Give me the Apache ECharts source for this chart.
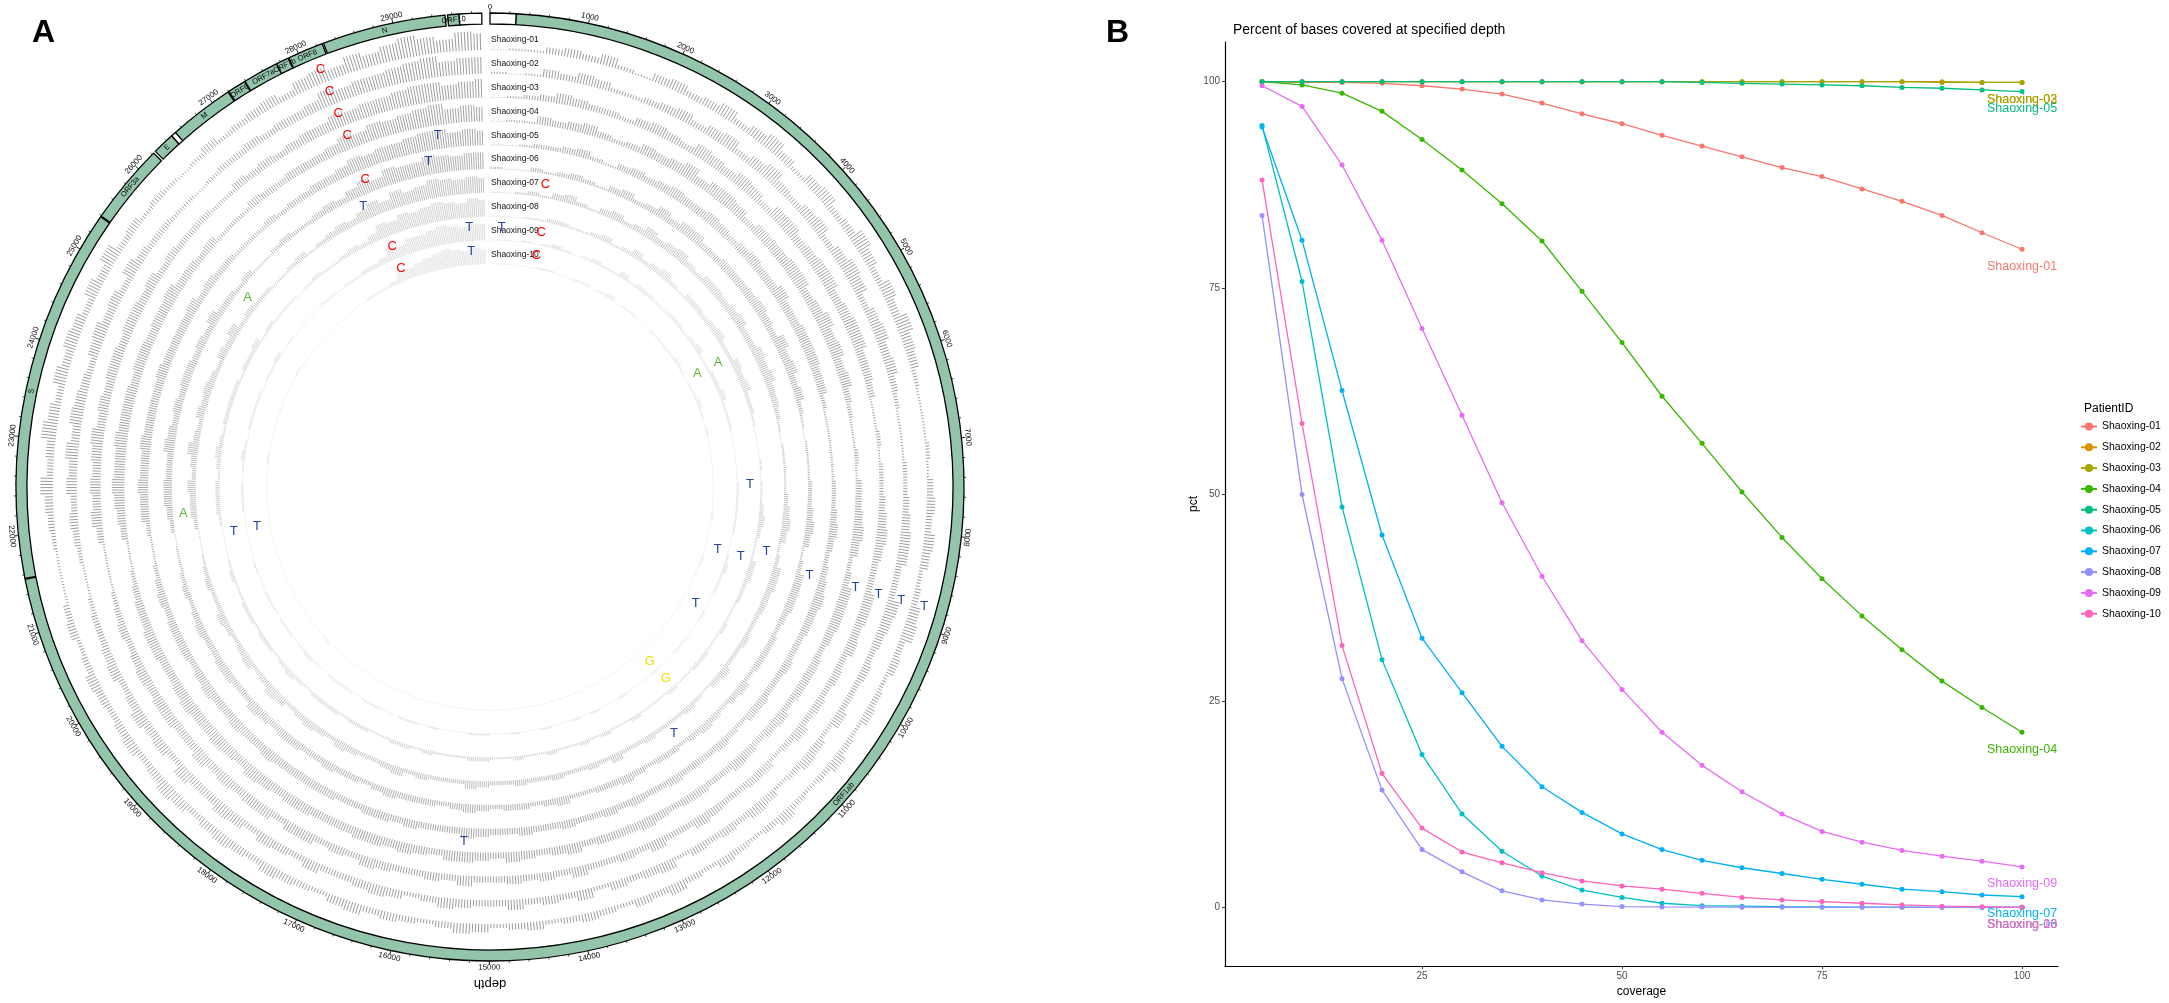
<!DOCTYPE html>
<html>
<head>
<meta charset="utf-8">
<script src="https://cdn.jsdelivr.net/npm/echarts@6/dist/echarts.min.js"></script>
<style>
  html, body { margin: 0; background: #fff; }
  #main { width: 2169px; height: 1003px; }
</style>
</head>
<body>
<div id="main"></div>
<script>
// ---------- panel B: coverage curves ----------
var PATIENTS = ['Shaoxing-01', 'Shaoxing-02', 'Shaoxing-03', 'Shaoxing-04', 'Shaoxing-05',
  'Shaoxing-06', 'Shaoxing-07', 'Shaoxing-08', 'Shaoxing-09', 'Shaoxing-10'];
var COLORS = ['#F8766D', '#D89000', '#A3A500', '#39B600', '#00BF7D',
  '#00BFC4', '#00B0F6', '#9590FF', '#E76BF3', '#FF62BC'];
var COVERAGE = [5, 10, 15, 20, 25, 30, 35, 40, 45, 50, 55, 60, 65, 70, 75, 80, 85, 90, 95, 100];
var X_TICKS = [25, 50, 75, 100];
var Y_TICKS = [0, 25, 50, 75, 100];

var PCT_01 = [100, 99.9, 99.9, 99.8, 99.5, 99.1, 98.5, 97.4, 96.1, 94.9, 93.5, 92.2, 90.9, 89.6, 88.5, 87.0, 85.5, 83.8, 81.7, 79.7];
var PCT_02 = [100, 100, 100, 100, 100, 100, 100, 100, 100, 100, 100, 100, 100, 100, 100, 100, 100, 100, 99.9, 99.9];
var PCT_03 = [100, 100, 100, 100, 100, 100, 100, 100, 100, 100, 100, 100, 100, 100, 100, 100, 100, 99.9, 99.9, 99.9];
var PCT_04 = [100, 99.6, 98.6, 96.4, 93.0, 89.3, 85.2, 80.7, 74.6, 68.4, 61.9, 56.2, 50.3, 44.8, 39.8, 35.3, 31.2, 27.4, 24.2, 21.2];
var PCT_05 = [100, 100, 100, 100, 100, 100, 100, 100, 100, 100, 100, 99.9, 99.8, 99.7, 99.6, 99.5, 99.3, 99.2, 99.0, 98.8];
var PCT_06 = [94.7, 75.8, 48.5, 30.0, 18.5, 11.3, 6.8, 3.8, 2.1, 1.2, 0.5, 0.2, 0.15, 0.08, 0.05, 0.03, 0.02, 0.01, 0, 0];
var PCT_07 = [94.5, 80.8, 62.6, 45.1, 32.6, 26.0, 19.5, 14.6, 11.5, 8.9, 7.0, 5.7, 4.8, 4.1, 3.4, 2.8, 2.2, 1.9, 1.5, 1.3];
var PCT_08 = [83.8, 50.0, 27.7, 14.2, 7.0, 4.3, 2.0, 0.9, 0.4, 0.1, 0.05, 0.03, 0.02, 0.01, 0, 0, 0, 0, 0, 0];
var PCT_09 = [99.5, 97.0, 89.9, 80.8, 70.1, 59.6, 49.0, 40.1, 32.3, 26.4, 21.2, 17.2, 14.0, 11.3, 9.2, 7.9, 6.9, 6.2, 5.6, 4.9];
var PCT_10 = [88.1, 58.6, 31.7, 16.2, 9.6, 6.7, 5.4, 4.2, 3.2, 2.6, 2.2, 1.7, 1.2, 0.9, 0.7, 0.5, 0.3, 0.15, 0.08, 0];
var PCT = [PCT_01, PCT_02, PCT_03, PCT_04, PCT_05, PCT_06, PCT_07, PCT_08, PCT_09, PCT_10];

// ---------- panel A: circular depth plot ----------
var GENOME_LEN = 29903;
var TICK_VALUES = [0, 1000, 2000, 3000, 4000, 5000, 6000, 7000, 8000, 9000, 10000, 11000, 12000, 13000, 14000,
  15000, 16000, 17000, 18000, 19000, 20000, 21000, 22000, 23000, 24000, 25000, 26000, 27000, 28000, 29000];

var GENE_LABELS = ['', 'ORF1ab', 'S', 'ORF3a', 'E', '', 'M', 'ORF6', 'ORF7a', 'ORF7b', 'ORF8', 'N', 'ORF10', ''];
var GENE_START = [0, 266, 21563, 25393, 26245, 26472, 26523, 27202, 27394, 27756, 27894, 28274, 29558, 29675];
var GENE_END = [266, 21555, 25384, 26220, 26472, 26523, 27191, 27387, 27759, 27887, 28259, 29533, 29674, 29903];
var GENE_CODING = [false, true, true, true, true, false, true, true, true, true, true, true, true, false];

// mean depth per 200-nt window, scaled 0-10 within each track
var DEPTH_01 = [
  0,1,1,3,4,3,5,2,1,4, 5,3,4,6,3,5,7,4,2,5, 6,3,4,7,5,3,6,4,7,5, 4,2,1,1,1,2,1,3,4,3,
  5,4,2,3,5,6,3,4,2,3, 4,2,3,5,3,2,3,5,3,2, 3,4,2,3,5,3,4,2,3,4, 3,2,4,3,2,4,5,3,2,3,
  4,3,5,4,2,3,4,5,3,4, 5,4,3,5,6,4,3,5,4,3, 4,5,3,2,4,3,1,1,1,2, 3,4,6,3,4,7,5,3,6,4,
  6,5,3,6,4,7,3,4,2,3, 2,1,2,4,2,3,4,5,3,6, 7,5,8,6,8,10,8,6,9,8];
var DEPTH_02 = [
  1,0,1,4,3,5,4,2,2,3, 4,5,3,5,6,3,5,7,4,3, 5,6,3,5,7,6,3,5,6,4, 5,3,2,1,1,1,2,2,3,4,
  5,5,3,3,6,5,4,3,4,3, 3,5,2,4,5,3,2,4,5,3, 4,3,4,2,5,4,3,4,2,5, 3,4,3,5,3,3,4,5,3,2,
  4,5,4,3,3,5,3,4,5,3, 5,6,4,4,6,3,5,4,6,4, 3,5,4,3,3,2,1,1,2,3, 4,3,5,4,6,4,6,5,4,3,
  5,6,4,5,3,6,4,3,3,2, 2,1,2,3,3,4,3,4,4,5, 8,6,7,7,8,9,10,7,8,8];
var DEPTH_03 = [
  0,1,2,3,5,4,3,3,2,4, 5,4,3,6,5,4,6,5,3,6, 6,4,5,6,6,4,5,6,6,4, 4,3,1,1,2,1,2,2,3,4,
  5,4,3,3,5,5,4,5,3,4, 3,4,3,5,3,2,4,4,3,3, 4,5,3,3,5,3,4,3,3,5, 3,4,3,4,3,3,5,3,4,3,
  3,4,5,3,4,3,5,5,3,5, 5,4,5,4,6,4,4,5,5,4, 5,4,3,4,3,2,1,1,1,3, 5,4,5,4,5,6,4,5,4,5,
  5,4,5,5,4,5,3,4,3,3, 3,2,2,4,3,4,3,4,5,5, 7,6,7,7,8,9,9,7,8,9];
var DEPTH_04 = [
  0,1,1,4,3,4,5,3,2,3, 5,4,5,7,4,6,6,5,3,5, 5,5,6,6,4,5,7,5,6,4, 5,3,2,1,1,2,1,3,3,4,
  5,4,2,3,5,5,5,4,3,4, 4,4,3,5,4,3,4,5,3,3, 4,4,3,4,5,4,4,4,3,5, 4,3,4,5,3,4,5,5,3,4,
  5,4,5,5,4,4,4,5,5,4, 5,6,4,5,6,5,5,6,5,4, 4,5,5,4,4,3,2,1,1,3, 4,5,6,5,5,6,5,5,5,4,
  5,5,4,5,5,6,4,4,3,4, 2,2,2,4,3,3,4,4,4,5, 7,6,8,7,8,9,10,7,8,7];
var DEPTH_05 = [
  0,0,1,2,2,3,4,2,1,3, 4,3,4,5,4,4,5,4,3,4, 5,4,4,6,4,4,5,5,5,4, 4,2,1,1,1,1,1,2,2,3,
  4,3,2,3,4,5,4,4,3,3, 4,3,3,4,4,2,3,4,3,3, 3,4,3,3,4,3,4,3,3,4, 3,3,4,3,3,4,5,3,3,3,
  4,3,4,4,3,3,4,4,4,4, 4,5,4,4,5,4,4,5,4,3, 4,4,4,3,4,3,2,1,1,2, 4,4,5,4,4,5,4,4,4,4,
  5,4,4,4,4,5,3,4,3,3, 2,2,2,3,2,3,3,4,4,5, 7,6,7,7,8,9,9,7,8,7];
var DEPTH_06 = [
  1,0,0,2,1,2,3,2,1,3, 4,2,3,5,3,5,5,3,3,4, 4,4,4,5,4,3,6,4,5,3, 4,2,1,0,1,1,1,2,2,3,
  4,3,1,2,4,4,4,3,2,3, 3,3,2,4,3,2,3,4,3,2, 3,3,2,3,4,3,3,2,2,4, 3,2,3,3,2,3,4,3,2,3,
  3,3,4,3,2,3,3,4,3,3, 4,4,3,4,5,3,3,4,4,3, 3,4,3,2,3,2,1,1,0,2, 3,4,4,3,3,5,4,3,4,3,
  4,4,3,4,3,5,3,3,2,3, 1,1,2,3,2,2,3,4,3,5, 7,5,8,7,7,9,8,7,8,8];
var DEPTH_07 = [
  0,0,1,2,1,3,4,2,1,3, 4,2,3,5,3,4,5,3,2,4, 4,3,4,5,3,3,5,4,5,3, 3,2,1,0,1,1,1,1,2,3,
  4,3,1,2,4,4,3,3,2,2, 3,2,2,4,3,1,2,3,2,2, 2,3,2,2,4,2,3,2,2,3, 2,2,3,2,2,3,4,2,2,2,
  3,2,4,3,2,2,3,4,2,3, 4,3,2,4,5,3,2,4,3,2, 3,4,2,2,3,2,1,0,0,2, 3,3,4,2,3,5,3,2,4,3,
  4,3,2,4,3,5,2,3,2,2, 1,1,2,3,1,2,3,4,3,5, 7,5,8,6,7,9,8,7,8,7];
var DEPTH_08 = [
  0,0,0,1,1,2,2,1,1,2, 3,1,2,4,2,3,4,2,1,3, 3,2,3,4,2,2,4,3,4,2, 2,1,0,0,0,1,0,1,1,2,
  3,2,1,1,3,3,2,2,1,1, 2,1,1,2,2,1,1,2,1,1, 1,2,1,1,2,1,2,1,1,2, 1,1,2,1,1,2,2,1,1,1,
  2,1,2,2,1,1,2,2,1,2, 2,2,1,2,3,2,1,2,2,1, 2,2,1,1,2,1,0,0,0,1, 2,2,2,1,2,3,2,1,2,2,
  2,2,1,2,2,3,1,2,1,1, 1,0,1,2,1,1,2,3,2,4, 7,6,8,7,8,9,8,7,9,8];
var DEPTH_09 = [
  0,0,0,1,0,1,2,1,0,1, 2,1,1,3,1,2,2,1,1,2, 2,1,2,3,1,1,2,2,3,1, 1,1,0,0,0,0,0,1,1,1,
  1,1,0,0,1,2,1,1,0,0, 1,0,0,1,1,0,0,1,0,0, 0,1,0,0,1,0,1,0,0,1, 0,0,1,0,0,1,1,0,0,0,
  1,0,1,1,0,0,1,1,0,1, 1,1,0,1,2,1,0,1,1,0, 1,1,0,0,1,0,0,0,0,0, 1,1,1,0,1,2,1,0,1,1,
  1,1,0,1,1,2,0,1,0,0, 0,0,1,1,0,1,1,2,2,3, 6,5,7,7,8,9,8,7,8,8];
var DEPTH_10 = [
  0,0,0,0,0,1,1,0,0,1, 1,0,1,2,0,1,1,0,0,1, 1,1,1,2,1,0,1,1,2,1, 0,1,0,0,0,0,0,0,0,0,
  1,0,0,0,0,1,0,0,0,0, 0,0,0,0,0,0,0,0,0,0, 0,0,0,0,0,0,0,0,0,0, 0,0,0,0,0,0,0,0,0,0,
  0,0,0,0,0,0,0,0,0,0, 0,0,0,0,1,0,0,0,0,0, 0,0,0,0,0,0,0,0,0,0, 0,0,0,0,0,1,0,0,0,0,
  0,0,0,0,0,1,0,0,0,0, 0,0,0,0,0,0,1,1,1,2, 5,5,6,7,8,9,8,7,8,7];
var DEPTH = [DEPTH_01, DEPTH_02, DEPTH_03, DEPTH_04, DEPTH_05, DEPTH_06, DEPTH_07, DEPTH_08, DEPTH_09, DEPTH_10];
var DEPTH_BIN = 200;

// called variants: position, sample (1-10), alternative base
var MUT_POS = [28144, 28144, 28144, 28144, 28144, 28144, 28144,
  8782, 8782, 8782, 8782, 8782, 8782, 8782,
  29095, 29283, 27958, 29605, 29605, 213, 866, 945, 945,
  25655, 5108, 5108, 22081, 21678, 21698, 7442, 8582, 9955, 11935, 15343, 11448, 11448];
var MUT_SAMPLE = [1, 2, 3, 4, 6, 9, 10,
  1, 2, 3, 4, 6, 9, 10,
  6, 5, 7, 9, 10, 9, 7, 9, 10,
  7, 9, 10, 7, 9, 10, 9, 8, 10, 7, 5, 10, 9];
var MUT_BASE = ['C', 'C', 'C', 'C', 'C', 'C', 'C',
  'T', 'T', 'T', 'T', 'T', 'T', 'T',
  'T', 'T', 'T', 'T', 'T', 'T', 'C', 'C', 'C',
  'A', 'A', 'A', 'A', 'T', 'T', 'T', 'T', 'T', 'T', 'T', 'G', 'G'];

// ---------- layout & style ----------
var FONT = 'Liberation Sans, Arial, sans-serif';
var BASE_COLORS = { C: '#FF0000', T: '#27449C', A: '#5DB734', G: '#EEE000' };
var RING_COLORS = ['#707070', '#737373', '#777777', '#7b7b7b', '#818181', '#8c8c8c', '#a3a3a3', '#bdbdbd', '#cfcfcf', '#dadada'];
var GENE_GREEN = '#93C5AA';
var POLAR_R = 474;            // outer edge of gene ring
var GENE_R0 = 463;
var TRACK_BASE = 437;         // baseline of the outer depth track
var TRACK_STEP = 23.8;
var BAR_SCALE = 2.1;          // px per depth unit
var LINES_PER_BIN = 6;
var ANGLE_MAX = GENOME_LEN * 360 / 359;   // 1 degree gap after the genome

function screenAngle(cs, p) { return Math.atan2(p[1] - cs.cy, p[0] - cs.cx); }
function dist(cs, p) { return Math.sqrt((p[0] - cs.cx) * (p[0] - cs.cx) + (p[1] - cs.cy) * (p[1] - cs.cy)); }
function readableRotation(cs, p) {
  var psi = screenAngle(cs, p) + Math.PI / 2;
  while (psi > Math.PI) psi -= 2 * Math.PI;
  while (psi <= -Math.PI) psi += 2 * Math.PI;
  if (psi > Math.PI / 2 + 1e-6) psi -= Math.PI;
  else if (psi < -Math.PI / 2 - 1e-6) psi += Math.PI;
  return -psi;
}

var geneData = GENE_START.map(function (s, i) { return [s, GENE_END[i], i]; });
var barData = [];
DEPTH.forEach(function (arr, ring) {
  arr.forEach(function (v, k) { barData.push([k, v, ring]); });
});
var mutData = MUT_POS.map(function (p, i) { return [p, MUT_SAMPLE[i], i]; });

var polarSeries = [
  { // gene boxes
    type: 'custom', coordinateSystem: 'polar', silent: true, z: 2,
    data: geneData,
    renderItem: function (params, api) {
      var cs = params.coordSys;
      var s = api.value(0), e = api.value(1), idx = api.value(2);
      var pa = api.coord([POLAR_R, s]), pb = api.coord([POLAR_R, e]);
      var a0 = screenAngle(cs, pa), a1 = screenAngle(cs, pb);
      if (a1 < a0) a1 += 2 * Math.PI;
      return {
        type: 'sector',
        shape: { cx: cs.cx, cy: cs.cy, r0: dist(cs, api.coord([GENE_R0, s])), r: dist(cs, pa),
          startAngle: a0, endAngle: a1, clockwise: true },
        style: { fill: GENE_CODING[idx] ? GENE_GREEN : '#ffffff', stroke: '#000', lineWidth: 1.3 }
      };
    }
  },
  { // gene names
    type: 'custom', coordinateSystem: 'polar', silent: true, z: 3,
    data: geneData,
    renderItem: function (params, api) {
      var cs = params.coordSys, idx = api.value(2);
      if (!GENE_LABELS[idx]) return;
      var p = api.coord([(POLAR_R + GENE_R0) / 2, (api.value(0) + api.value(1)) / 2]);
      return {
        type: 'text', x: p[0], y: p[1], rotation: readableRotation(cs, p),
        style: { text: GENE_LABELS[idx], fill: '#000', fontSize: 7.5, fontFamily: FONT, align: 'center', verticalAlign: 'middle' }
      };
    }
  },
  { // coordinate labels
    type: 'custom', coordinateSystem: 'polar', silent: true, z: 3,
    data: TICK_VALUES.map(function (t) { return [0, t]; }),
    renderItem: function (params, api) {
      var cs = params.coordSys;
      var t = api.value(1);
      var p = api.coord([POLAR_R + 6.5, t]);
      return {
        type: 'text', x: p[0], y: p[1], rotation: readableRotation(cs, p),
        style: { text: String(t), fill: '#111', fontSize: 8, fontFamily: FONT, align: 'center', verticalAlign: 'middle' }
      };
    }
  },
  { // depth bars
    type: 'custom', coordinateSystem: 'polar', silent: true, z: 2,
    data: barData,
    renderItem: function (params, api) {
      var k = api.value(0), v = api.value(1), ring = api.value(2);
      var base = TRACK_BASE - ring * TRACK_STEP;
      var h = Math.max(v * BAR_SCALE, 0.7);
      var d = '';
      for (var j = 0; j < LINES_PER_BIN; j++) {
        var pos = k * DEPTH_BIN + (j + 0.5) * DEPTH_BIN / LINES_PER_BIN;
        if (pos > GENOME_LEN) break;
        var a = api.coord([base, pos]), b = api.coord([base + h, pos]);
        d += 'M' + a[0].toFixed(2) + ' ' + a[1].toFixed(2) + 'L' + b[0].toFixed(2) + ' ' + b[1].toFixed(2);
      }
      if (!d) return;
      return { type: 'path', shape: { pathData: d }, style: { stroke: RING_COLORS[ring], lineWidth: 0.7, fill: 'none' } };
    }
  },
  { // sample names
    type: 'custom', coordinateSystem: 'polar', silent: true, z: 4,
    data: PATIENTS.map(function (n, i) { return [0, 0, i]; }),
    renderItem: function (params, api) {
      var i = api.value(2);
      var p = api.coord([TRACK_BASE - i * TRACK_STEP + 10, 0]);
      return {
        type: 'text', x: p[0] + 1, y: p[1],
        style: { text: PATIENTS[i], fill: '#111', fontSize: 8.5, fontFamily: FONT, align: 'left', verticalAlign: 'middle' }
      };
    }
  },
  { // variant letters
    type: 'custom', coordinateSystem: 'polar', silent: true, z: 5,
    data: mutData,
    renderItem: function (params, api) {
      var pos = api.value(0), s = api.value(1), i = api.value(2);
      var p = api.coord([TRACK_BASE - (s - 1) * TRACK_STEP + 13.5, pos]);
      return {
        type: 'text', x: p[0], y: p[1],
        style: { text: MUT_BASE[i], fill: BASE_COLORS[MUT_BASE[i]], fontSize: 13, fontFamily: FONT, align: 'center', verticalAlign: 'middle' }
      };
    }
  }
];

var lineSeries = PATIENTS.map(function (name, i) {
  return {
    name: name, type: 'line', xAxisIndex: 0, yAxisIndex: 0, silent: true,
    data: COVERAGE.map(function (c, k) { return [c, PCT[i][k]]; }),
    symbol: 'circle', symbolSize: 5, showSymbol: true,
    lineStyle: { width: 1.3, color: COLORS[i] },
    itemStyle: { color: COLORS[i] },
    label: {
      show: true, position: 'bottom', distance: 8, color: COLORS[i], fontSize: 12.5, fontFamily: FONT,
      formatter: function (p) { return p.dataIndex === COVERAGE.length - 1 ? name : ''; }
    },
    labelLayout: { hideOverlap: false },
    z: 3
  };
});

var chart = echarts.init(document.getElementById('main'), null, { renderer: 'canvas' });
chart.setOption({
  animation: false,
  backgroundColor: '#ffffff',
  textStyle: { fontFamily: FONT },
  title: [
    { text: 'A', left: 27, top: 12, textStyle: { fontSize: 32, fontWeight: 'bold', color: '#000', fontFamily: FONT } },
    { text: 'B', left: 1101, top: 12, textStyle: { fontSize: 32, fontWeight: 'bold', color: '#000', fontFamily: FONT } },
    { text: 'Percent of bases covered at specified depth', left: 1228, top: 18,
      textStyle: { fontSize: 14, fontWeight: 'normal', color: '#000', fontFamily: FONT } },
    { text: 'PatientID', left: 2079, top: 398, textStyle: { fontSize: 12, fontWeight: 'normal', color: '#000', fontFamily: FONT } }
  ],
  legend: {
    data: PATIENTS, orient: 'vertical', left: 2080, top: 421, padding: 0,
    itemWidth: 16, itemHeight: 10, itemGap: 9.8,
    textStyle: { fontSize: 10.5, color: '#000', fontFamily: FONT }
  },
  polar: { center: [490, 487], radius: POLAR_R },
  angleAxis: {
    type: 'value', min: 0, max: ANGLE_MAX, startAngle: 90, clockwise: true, interval: 1000,
    axisLine: { show: false },
    axisTick: { show: true, length: 4, lineStyle: { color: '#222', width: 1 } },
    minorTick: { show: true, splitNumber: 5, length: 2.2, lineStyle: { color: '#222', width: 0.8 } },
    axisLabel: { show: false },
    splitLine: { show: false }
  },
  radiusAxis: { type: 'value', min: 0, max: POLAR_R, show: false },
  grid: { left: 1225, top: 42, width: 833, height: 928 },
  xAxis: {
    type: 'value', min: 0.37, max: 104.5,
    name: 'coverage', nameLocation: 'middle', nameGap: 20,
    nameTextStyle: { color: '#000', fontSize: 12, fontFamily: FONT },
    axisLine: { onZero: false, lineStyle: { color: '#000', width: 1.2 } },
    axisTick: { length: 3, lineStyle: { color: '#333' }, customValues: X_TICKS },
    axisLabel: { customValues: X_TICKS, color: '#4d4d4d', fontSize: 10, margin: 5, fontFamily: FONT },
    splitLine: { show: false }
  },
  yAxis: {
    type: 'value', min: -7.1, max: 104.8,
    name: 'pct', nameLocation: 'middle', nameGap: 24,
    nameTextStyle: { color: '#000', fontSize: 12, fontFamily: FONT },
    axisLine: { onZero: false, lineStyle: { color: '#000', width: 1.2 } },
    axisTick: { length: 3, lineStyle: { color: '#333' }, customValues: Y_TICKS },
    axisLabel: { customValues: Y_TICKS, color: '#4d4d4d', fontSize: 10, margin: 5, fontFamily: FONT },
    splitLine: { show: false }
  },
  graphic: [
    { type: 'text', x: 490, y: 984, rotation: Math.PI, silent: true,
      style: { text: 'depth', fill: '#000', fontSize: 13, fontFamily: FONT, align: 'center', verticalAlign: 'middle' } }
  ],
  series: polarSeries.concat(lineSeries)
});
</script>
</body>
</html>
